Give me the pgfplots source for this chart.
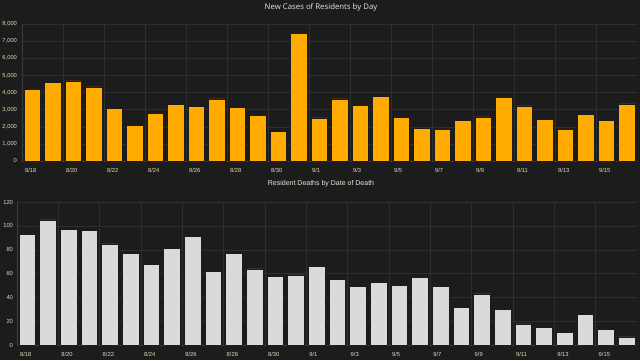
\documentclass[border=0pt]{standalone}
\usepackage{fontspec}
\setmainfont{Liberation Sans}
\newfontfamily\titlefont{Open Sans}
\usepackage{pgfplots}
\pgfplotsset{compat=1.18}
\definecolor{bg}{HTML}{1C1C1C}
\definecolor{gridc}{HTML}{2E2E2E}
\definecolor{axc}{HTML}{3C3C3C}
\definecolor{orangebar}{HTML}{FFAB00}
\definecolor{graybar}{HTML}{DADADA}
\definecolor{tickc}{HTML}{E2DAB8}
\definecolor{titlec}{HTML}{EAE6D6}
\pgfplotsset{
  darkbar/.style={
    scale only axis,
    anchor=south west,
    xmin=-0.5, xmax=29.5,
    ymin=0,
    xtick={-0.5,1.5,...,27.5},
    xticklabels={8/18,8/20,8/22,8/24,8/26,8/28,8/30,9/1,9/3,9/5,9/7,9/9,9/11,9/13,9/15},
    x tick label style={anchor=north west, xshift=-0.5pt, yshift=1pt},
    tick label style={font=\fontsize{5.8}{7}\selectfont, text=tickc},
    /pgf/number format/assume math mode=true,
    /pgf/number format/1000 sep={,},
    grid=major,
    major grid style={draw=gridc, line width=0.4pt},
    axis line style={draw=axc, line width=0.5pt},
    axis x line*=bottom,
    axis y line*=left,
    tick style={draw=none},
    ybar,
    bar width=0.8,
    axis background/.style={fill=bg},
  }
}
\begin{document}
\begin{tikzpicture}
\fill[bg] (0pt,0pt) rectangle (640pt,360pt);
\useasboundingbox (0pt,0pt) rectangle (640pt,360pt);
\node[font=\titlefont\fontsize{7.8}{9}\selectfont, text=titlec] at (321pt,353pt) {New Cases of Residents by Day};
\node[font=\fontsize{7}{8}\selectfont, text=titlec] at (321pt,176pt) {Resident Deaths by Date of Death};
\begin{axis}[darkbar,
  at={(22pt,199pt)}, width=615pt, height=137pt,
  ymax=8000, ytick={0,1000,...,8000},
  yticklabel style={xshift=-1.5pt}]
\addplot[fill=orangebar, draw=bg, line width=0.6pt] coordinates {
(0,4190) (1,4580) (2,4680) (3,4330) (4,3050) (5,2100) (6,2780) (7,3320) (8,3200) (9,3630)
(10,3150) (11,2640) (12,1730) (13,7460) (14,2520) (15,3630) (16,3260) (17,3750) (18,2560) (19,1900)
(20,1845) (21,2350) (22,2580) (23,3710) (24,3220) (25,2450) (26,1845) (27,2720) (28,2350) (29,3340)};
\end{axis}
\begin{axis}[darkbar,
  at={(17pt,14.7pt)}, width=620pt, height=143.3pt,
  ymax=120, ytick={0,20,...,120},
  yticklabel style={xshift=-0.5pt}]
\addplot[fill=graybar, draw=bg, line width=0.6pt] coordinates {
(0,93) (1,105) (2,97) (3,96) (4,85) (5,77) (6,68) (7,81) (8,91) (9,62)
(10,77) (11,64) (12,58) (13,59) (14,66) (15,55) (16,49) (17,53) (18,50) (19,57)
(20,49) (21,32) (22,43) (23,30) (24,18) (25,15) (26,11) (27,26) (28,13) (29,7)};
\end{axis}
\end{tikzpicture}
\end{document}
